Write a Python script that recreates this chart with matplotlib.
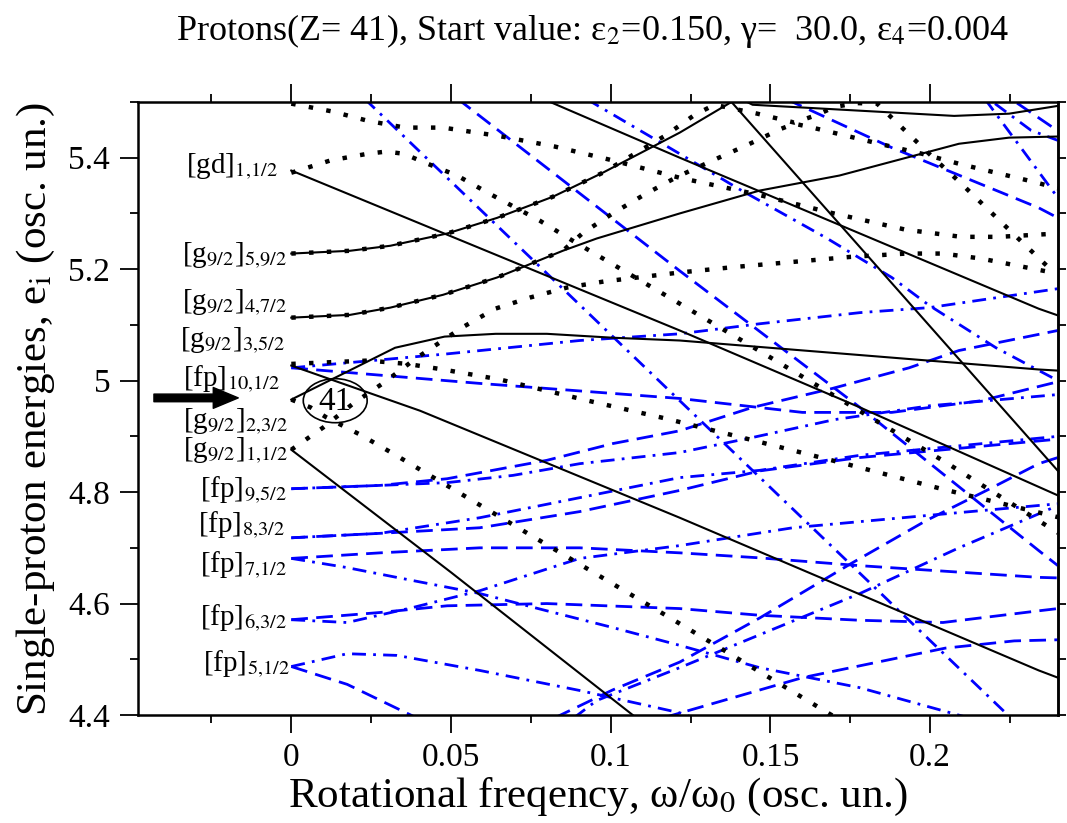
import matplotlib

matplotlib.use("Agg")
import matplotlib.pyplot as plt
from matplotlib.patches import Ellipse
from matplotlib.ticker import MultipleLocator

plt.rcParams["font.family"] = ["Liberation Serif", "DejaVu Serif"]
plt.rcParams["mathtext.fontset"] = "stix"

# --- solid black Routhians -------------------------------------------------
s_gd_x = [0, 0.1216, 0.178, 0.24]
s_gd_y = [5.377, 5.09, 4.952, 4.794]
s_g23_x = [0, 0.0325, 0.048, 0.064, 0.08, 0.1006, 0.1216, 0.234, 0.24]
s_g23_y = [4.966, 5.059, 5.079, 5.084, 5.084, 5.077, 5.072, 5.02, 5.018]
s_g11_x = [0, 0.05, 0.108]
s_g11_y = [4.876, 4.656, 4.395]
s_g35_x = [0, 0.0403, 0.1216, 0.234, 0.24]
s_g35_y = [5.027, 4.946, 4.754, 4.48, 4.467]
s_g59_x = [0, 0.0184, 0.031, 0.0488, 0.0644, 0.0819, 0.0975, 0.1216, 0.1378]
s_g59_y = [5.228, 5.233, 5.242, 5.264, 5.292, 5.33, 5.373, 5.445, 5.5]
s_g47_x = [0, 0.0184, 0.031, 0.0475, 0.0644, 0.085, 0.0956, 0.1216, 0.1466, 0.1716, 0.209, 0.2247, 0.24]
s_g47_y = [5.113, 5.118, 5.131, 5.154, 5.185, 5.233, 5.255, 5.30, 5.341, 5.368, 5.425, 5.436, 5.438]
s_fall_x = [0.1378, 0.24]
s_fall_y = [5.5, 4.838]
s_top_x = [0.142, 0.1444, 0.2075, 0.2247, 0.24]
s_top_y = [5.502, 5.495, 5.475, 5.479, 5.493]
s_mid_x = [0.079, 0.1216, 0.234, 0.24]
s_mid_y = [5.505, 5.40, 5.129, 5.117]

# --- dotted black Routhians ------------------------------------------------
d_gd_x = [0, 0.0122, 0.0238, 0.0297, 0.0353, 0.041, 0.0519, 0.0622, 0.0778, 0.0881, 0.1184, 0.149, 0.174, 0.205, 0.24]
d_gd_y = [5.373, 5.395, 5.407, 5.411, 5.407, 5.393, 5.368, 5.335, 5.287, 5.251, 5.149, 5.045, 4.959, 4.853, 4.727]
d_top_x = [0, 0.0128, 0.0241, 0.0356, 0.0475, 0.065, 0.0825, 0.1, 0.1216, 0.1459, 0.1691, 0.1922, 0.2097, 0.2216, 0.24]
d_top_y = [5.497, 5.483, 5.466, 5.454, 5.454, 5.439, 5.42, 5.396, 5.364, 5.334, 5.301, 5.271, 5.258, 5.258, 5.264]
d_g11_x = [0, 0.01, 0.0194, 0.0294, 0.0388, 0.0534, 0.0638, 0.0747, 0.0863, 0.098, 0.1216, 0.139, 0.157, 0.175, 0.1925, 0.204, 0.216, 0.2275, 0.24]
d_g11_y = [4.876, 4.916, 4.959, 4.998, 5.039, 5.095, 5.129, 5.149, 5.167, 5.178, 5.194, 5.204, 5.213, 5.222, 5.228, 5.228, 5.219, 5.206, 5.192]
d_g35_x = [0, 0.0241, 0.0363, 0.0475, 0.0653, 0.0944, 0.1172, 0.1459, 0.1747, 0.2034, 0.24]
d_g35_y = [5.03, 5.036, 5.03, 5.02, 5.002, 4.962, 4.932, 4.891, 4.849, 4.806, 4.755]
d_g23_x = [0, 0.006, 0.011, 0.0216, 0.0319, 0.0625, 0.1184, 0.1694, 0.175]
d_g23_y = [4.966, 4.952, 4.934, 4.903, 4.869, 4.765, 4.575, 4.399, 4.38]
d_g59_x = [0, 0.0184, 0.031, 0.0488, 0.0644, 0.0819, 0.0975, 0.1172, 0.1263, 0.1325, 0.1459, 0.1575,
           0.1647, 0.17, 0.1769, 0.1834, 0.1919, 0.2006, 0.2091, 0.2178, 0.2263, 0.2391]
d_g59_y = [5.228, 5.233, 5.242, 5.264, 5.292, 5.33, 5.373, 5.44, 5.477, 5.495, 5.479, 5.463,
           5.477, 5.491, 5.498, 5.497, 5.45, 5.402, 5.357, 5.309, 5.262, 5.192]
d_g47_x = [0, 0.0184, 0.031, 0.0475, 0.0644, 0.085, 0.0913, 0.1006, 0.1106, 0.1209, 0.1319, 0.1428, 0.1534,
           0.1575, 0.1631, 0.1747, 0.1863, 0.1975, 0.2091, 0.2206, 0.2322, 0.24]
d_g47_y = [5.113, 5.118, 5.131, 5.154, 5.185, 5.233, 5.265, 5.30, 5.334, 5.366, 5.395, 5.423, 5.452,
           5.461, 5.454, 5.438, 5.422, 5.407, 5.389, 5.373, 5.357, 5.345]

# --- blue dashed Routhians -------------------------------------------------
b_fp10_x = [0, 0.059, 0.1216, 0.16, 0.188, 0.216, 0.24]
b_fp10_y = [5.023, 4.995, 4.968, 4.943, 4.943, 4.964, 4.998]
b_fp9_x = [0, 0.0278, 0.0488, 0.08, 0.1006, 0.1216, 0.1444, 0.1694, 0.1934, 0.209, 0.24]
b_fp9_y = [4.806, 4.812, 4.824, 4.857, 4.887, 4.91, 4.952, 4.986, 5.023, 5.054, 5.09]
b_fp8_x = [0, 0.0278, 0.059, 0.0903, 0.1216, 0.1466, 0.178, 0.24]
b_fp8_y = [4.718, 4.726, 4.736, 4.765, 4.803, 4.838, 4.862, 4.895]
b_fp7_x = [0, 0.0278, 0.059, 0.0903, 0.1216, 0.1466, 0.178, 0.234, 0.24]
b_fp7_y = [4.681, 4.691, 4.70, 4.70, 4.691, 4.682, 4.668, 4.647, 4.646]
b_fp6_x = [0, 0.0278, 0.0488, 0.08, 0.1216, 0.1466, 0.178, 0.204, 0.234, 0.24]
b_fp6_y = [4.571, 4.584, 4.596, 4.60, 4.591, 4.579, 4.57, 4.566, 4.587, 4.591]
b_fp5_x = [0, 0.0175, 0.041]
b_fp5_y = [4.487, 4.455, 4.39]
b_fallA_x = [0.052, 0.1216, 0.178, 0.234, 0.24]
b_fallA_y = [5.506, 5.197, 4.952, 4.695, 4.668]
b_fallB_x = [0.155, 0.188, 0.234, 0.24]
b_fallB_y = [5.505, 5.418, 5.31, 5.292]
b_riseA_x = [0.0825, 0.1006, 0.1216, 0.1466, 0.1753, 0.1988, 0.2194, 0.234, 0.24]
b_riseA_y = [4.395, 4.445, 4.495, 4.574, 4.672, 4.749, 4.808, 4.851, 4.862]
b_riseB_x = [0.1165, 0.16, 0.2047, 0.2263, 0.24]
b_riseB_y = [4.395, 4.467, 4.52, 4.533, 4.535]
b_corner_x = [0.2272, 0.24]
b_corner_y = [5.498, 5.448]

# --- blue dash-dot Routhians -----------------------------------------------
c_fp10_x = [0, 0.0488, 0.0903, 0.1216, 0.1466, 0.178, 0.1997, 0.24]
c_fp10_y = [5.023, 5.048, 5.072, 5.084, 5.102, 5.122, 5.131, 5.165]
c_fp9_x = [0, 0.0278, 0.0488, 0.0694, 0.0903, 0.1216, 0.1444, 0.17, 0.2, 0.24]
c_fp9_y = [4.806, 4.812, 4.817, 4.83, 4.851, 4.871, 4.898, 4.93, 4.955, 4.975]
c_fp8_x = [0, 0.0278, 0.059, 0.0903, 0.1216, 0.1466, 0.178, 0.24]
c_fp8_y = [4.718, 4.726, 4.754, 4.79, 4.826, 4.839, 4.866, 4.9]
c_fp7_x = [0, 0.017, 0.0383, 0.059, 0.08, 0.1006, 0.1216, 0.1466, 0.178, 0.212]
c_fp7_y = [4.681, 4.665, 4.641, 4.618, 4.587, 4.557, 4.525, 4.485, 4.449, 4.395]
c_fp6_x = [0, 0.0175, 0.0381, 0.059, 0.0903, 0.1216, 0.157, 0.199, 0.234, 0.24]
c_fp6_y = [4.571, 4.566, 4.593, 4.623, 4.681, 4.704, 4.736, 4.758, 4.776, 4.779]
c_fp5_x = [0, 0.0175, 0.033, 0.059, 0.0903, 0.1216, 0.126]
c_fp5_y = [4.487, 4.51, 4.507, 4.48, 4.444, 4.404, 4.395]
c_fallA_x = [0.023, 0.2245]
c_fallA_y = [5.5055, 4.399]
c_fallB_x = [0.0925, 0.1216, 0.141, 0.1675, 0.188, 0.1997, 0.2206, 0.24]
c_fallB_y = [5.505, 5.407, 5.341, 5.256, 5.185, 5.135, 5.059, 5.0]
c_fallC_x = [0.2172, 0.24]
c_fallC_y = [5.505, 5.328]
c_rise_x = [0.0885, 0.0956, 0.1216, 0.178, 0.209, 0.234, 0.24]
c_rise_y = [4.395, 4.426, 4.485, 4.618, 4.70, 4.761, 4.776]
c_corner_x = [0.2203, 0.2316, 0.24]
c_corner_y = [5.497, 5.449, 5.431]

# --- level labels at omega = 0 ---------------------------------------------
label_text = [
    r"[gd]$_{1{,}1/2}$", r"[g$_{9/2}$]$_{5{,}9/2}$", r"[g$_{9/2}$]$_{4{,}7/2}$", r"[g$_{9/2}$]$_{3{,}5/2}$",
    r"[fp]$_{10{,}1/2}$", r"[g$_{9/2}$]$_{2{,}3/2}$", r"[g$_{9/2}$]$_{1{,}1/2}$", r"[fp]$_{9{,}5/2}$",
    r"[fp]$_{8{,}3/2}$", r"[fp]$_{7{,}1/2}$", r"[fp]$_{6{,}3/2}$", r"[fp]$_{5{,}1/2}$",
]
label_x = [-0.0041, -0.0013, -0.0013, -0.0019, -0.0034, -0.001, -0.001, -0.0013, -0.0019, -0.0013, -0.0013, -0.0003]
label_y = [5.384, 5.224, 5.14, 5.072, 5.002, 4.926, 4.874, 4.803, 4.74, 4.668, 4.573, 4.492]

BLUE = "#0000ff"
solid = dict(color="black", lw=1.5)
dotted = dict(color="black", lw=3.2, linestyle=(0, (1, 3.0)), dash_capstyle="butt")
dashed = dict(color=BLUE, lw=2.0, linestyle=(0, (6, 3)))
dashdot = dict(color=BLUE, lw=2.0, linestyle=(0, (5, 2.6, 1, 2.6)))

fig = plt.figure(figsize=(10.67, 8.23), dpi=100)
ax = fig.add_axes([0.1293, 0.1312, 0.8622, 0.7449])

for xs, ys in [(b_fp10_x, b_fp10_y), (b_fp9_x, b_fp9_y), (b_fp8_x, b_fp8_y), (b_fp7_x, b_fp7_y),
               (b_fp6_x, b_fp6_y), (b_fp5_x, b_fp5_y), (b_fallA_x, b_fallA_y), (b_fallB_x, b_fallB_y),
               (b_riseA_x, b_riseA_y), (b_riseB_x, b_riseB_y), (b_corner_x, b_corner_y)]:
    ax.plot(xs, ys, **dashed)
for xs, ys in [(c_fp10_x, c_fp10_y), (c_fp9_x, c_fp9_y), (c_fp8_x, c_fp8_y), (c_fp7_x, c_fp7_y),
               (c_fp6_x, c_fp6_y), (c_fp5_x, c_fp5_y), (c_fallA_x, c_fallA_y), (c_fallB_x, c_fallB_y),
               (c_fallC_x, c_fallC_y), (c_rise_x, c_rise_y), (c_corner_x, c_corner_y)]:
    ax.plot(xs, ys, **dashdot)
for xs, ys in [(s_gd_x, s_gd_y), (s_g23_x, s_g23_y), (s_g11_x, s_g11_y), (s_g35_x, s_g35_y),
               (s_g59_x, s_g59_y), (s_g47_x, s_g47_y), (s_fall_x, s_fall_y), (s_top_x, s_top_y),
               (s_mid_x, s_mid_y)]:
    ax.plot(xs, ys, **solid)
for xs, ys in [(d_gd_x, d_gd_y), (d_top_x, d_top_y), (d_g11_x, d_g11_y), (d_g35_x, d_g35_y),
               (d_g23_x, d_g23_y), (d_g59_x, d_g59_y), (d_g47_x, d_g47_y)]:
    ax.plot(xs, ys, **dotted)

ax.set_xlim(-0.048, 0.24)
ax.set_ylim(4.4, 5.5)

for text, lx, ly in zip(label_text, label_x, label_y):
    ax.text(lx, ly, text, fontsize=21, ha="right", va="center")

# Fermi level marker
ax.add_patch(Ellipse((0.01375, 4.964), width=0.02, height=0.079, fill=False, lw=1.2, color="black"))
ax.text(0.0137, 4.962, "41", fontsize=24, ha="center", va="center")
ax.annotate("", xy=(-0.0166, 4.969), xytext=(-0.043, 4.969),
            arrowprops=dict(facecolor="black", edgecolor="black", width=5.5, headwidth=15,
                            headlength=18, shrink=0))

for side in ax.spines.values():
    side.set_linewidth(1.8)
ax.xaxis.set_major_locator(MultipleLocator(0.05))
ax.xaxis.set_minor_locator(MultipleLocator(0.025))
ax.yaxis.set_major_locator(MultipleLocator(0.2))
ax.yaxis.set_minor_locator(MultipleLocator(0.1))
ax.set_xticks([0, 0.05, 0.1, 0.15, 0.2])
ax.set_xticklabels(["0", "0.05", "0.1", "0.15", "0.2"])
ax.set_yticks([4.4, 4.6, 4.8, 5.0, 5.2, 5.4])
ax.set_yticklabels(["4.4", "4.6", "4.8", "5", "5.2", "5.4"])
ax.tick_params(axis="x", which="both", direction="out", top=True, width=1.3, labelsize=24, pad=7)
ax.tick_params(axis="y", which="both", direction="out", left=True, right=False, width=1.3, labelsize=24, pad=7)
ax.tick_params(which="major", length=13)
ax.tick_params(which="minor", length=6)

right = ax.secondary_yaxis("right")
right.set_yticks([4.4, 4.5, 4.6, 4.7, 4.8, 4.9, 5.0, 5.1, 5.2, 5.3, 5.4, 5.5])
right.tick_params(length=6, width=1.3, labelright=False, direction="out")
right.spines["right"].set_linewidth(1.8)

ax.set_xlabel(r"Rotational freqency, ω/ω$_0$ (osc. un.)", fontsize=31, labelpad=2)
ax.set_ylabel(r"Single-proton energies, e$_\mathrm{i}$ (osc. un.)", fontsize=31, labelpad=8)
fig.text(0.555, 0.962, r"Protons(Z= 41), Start value: ε$_2$=0.150, γ=  30.0, ε$_4$=0.004",
         fontsize=26, ha="center", va="center")

fig.savefig("out.png", dpi=100)
